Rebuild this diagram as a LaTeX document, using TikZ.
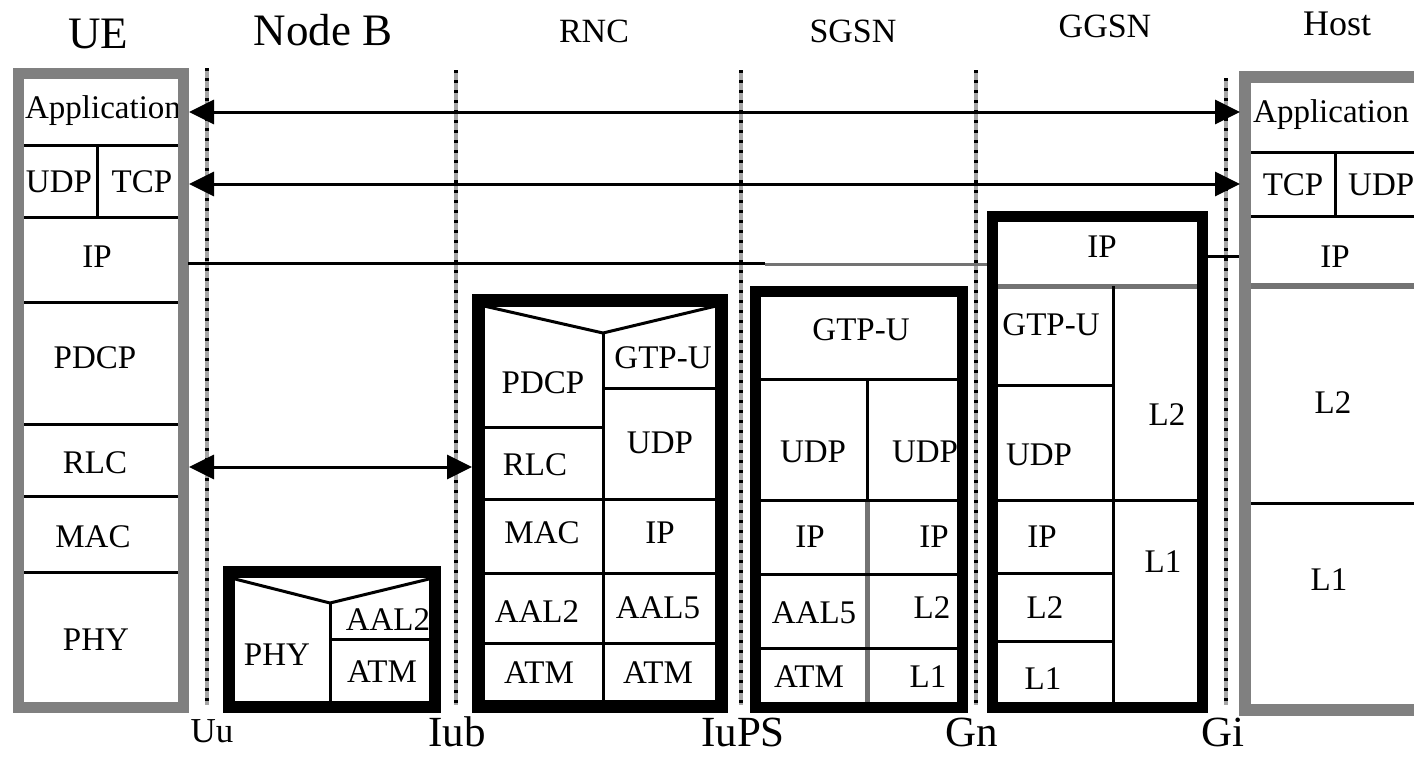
\documentclass[tikz,border=0pt]{standalone}
\usepackage{fontspec}
\setmainfont{Liberation Serif}
\usetikzlibrary{arrows.meta}
\begin{document}
\begin{tikzpicture}[x=1pt,y=-1pt,
  lbl/.style={anchor=base,inner sep=0pt,font=\fontsize{33}{33}\selectfont},
  lblw/.style={lbl,anchor=base west},
  hdrbig/.style={anchor=base,inner sep=0pt,font=\fontsize{45}{45}\selectfont},
  hdr/.style={anchor=base,inner sep=0pt,font=\fontsize{34}{34}\selectfont},
  iface/.style={anchor=base,inner sep=0pt,font=\fontsize{43}{43}\selectfont},
  ifacesmall/.style={anchor=base,inner sep=0pt,font=\fontsize{35}{35}\selectfont},
  sep/.style={line width=3pt,black},
  gsep/.style={line width=5pt,black!55},
  grayframe/.style={line width=11pt,black!50},
  blackframe/.style={line width=11pt,black},
  dotbase/.style={line width=3.5pt,black!35},
  dotline/.style={line width=3.5pt,black,dash pattern=on 3pt off 7pt},
  arr/.style={line width=3pt,{Triangle[length=25pt,width=24pt]}-{Triangle[length=25pt,width=24pt]}},
  plain/.style={line width=3pt,black}
]
\useasboundingbox (0,0) rectangle (1414,756);
\clip (0,0) rectangle (1414,756);

% ---------- interface dotted lines ----------
\foreach \x/\t in {207/68,456/70,741/70,976/70,1226/78}{
  \draw[dotbase] (\x,\t) -- (\x,705);
  \draw[dotline] (\x,\t) -- (\x,705);
}

% ---------- headers ----------
\node[hdrbig] (hUE) at (98,48) {UE};
\node[hdrbig] (hNB) at (323,45) {Node B};
\node[hdr] (hRNC) at (594,42) {RNC};
\node[hdr] (hSGSN) at (853,42) {SGSN};
\node[hdr] (hGGSN) at (1105,37) {GGSN};
\node[anchor=base,inner sep=0pt,font=\fontsize{36}{36}\selectfont] (hHost) at (1337,35) {Host};

% ---------- interface labels ----------
\node[ifacesmall] (iUu) at (212,742) {Uu};
\node[iface] (iIub) at (457,746) {Iub};
\node[iface] (iIuPS) at (743,746) {IuPS};
\node[iface] (iGn) at (972,746) {Gn};
\node[iface] (iGi) at (1223,746) {Gi};

% ---------- UE ----------
\node[lbl] (ueApp) at (103,118) {Application};
\node[lbl] (ueUDP) at (59,192) {UDP};
\node[lbl] (ueTCP) at (142,192) {TCP};
\node[lbl] (ueIP) at (97,267) {IP};
\node[lbl] (uePDCP) at (95,368) {PDCP};
\node[lbl] (ueRLC) at (95,473) {RLC};
\node[lbl] (ueMAC) at (93,547) {MAC};
\node[lbl] (uePHY) at (96,650) {PHY};
\draw[sep] (16,145) -- (186,145);
\draw[sep] (16,217) -- (186,217);
\draw[sep] (97,145) -- (97,217);
\draw[sep] (23,302) -- (178,302);
\draw[sep] (23,424) -- (178,424);
\draw[sep] (23,496) -- (178,496);
\draw[sep] (16,572) -- (186,572);
\draw[grayframe] (18.5,73.5) rectangle (183.5,707.5);

% ---------- Node B ----------
\node[lbl] (nbPHY) at (277,665) {PHY};
\node[lbl] (nbAAL2) at (388,630) {AAL2};
\node[lbl] (nbATM) at (382,682) {ATM};
\draw[sep] (235,579) -- (330,603) -- (429,579);
\draw[sep] (330,603) -- (330,701);
\draw[sep] (330,639) -- (429,639);
\draw[blackframe,line width=12pt] (229,572) rectangle (435,707);

% ---------- RNC ----------
\node[lbl] (rnPDCP) at (543,393) {PDCP};
\node[lbl] (rnGTP) at (663,368) {GTP-U};
\node[lbl] (rnRLC) at (535,475) {RLC};
\node[lbl] (rnUDP) at (660,453) {UDP};
\node[lbl] (rnMAC) at (542,543) {MAC};
\node[lbl] (rnIP) at (660,543) {IP};
\node[lbl] (rnAAL2) at (537,622) {AAL2};
\node[lbl] (rnAAL5) at (658,618) {AAL5};
\node[lbl] (rnATM1) at (539,683) {ATM};
\node[lbl] (rnATM2) at (658,683) {ATM};
\draw[sep] (484,306) -- (603,333) -- (716,306);
\draw[sep] (603,333) -- (603,701);
\draw[sep] (484,427) -- (603,427);
\draw[sep] (603,388) -- (716,388);
\draw[sep] (484,499) -- (716,499);
\draw[sep] (484,573) -- (716,573);
\draw[sep] (484,643) -- (716,643);
\draw[blackframe,line width=13pt] (478.5,300) rectangle (721.5,706.5);

% ---------- SGSN ----------
\node[lbl] (sgGTP) at (861,340) {GTP-U};
\node[lbl] (sgUDP1) at (813,462) {UDP};
\node[lbl] (sgUDP2) at (925,462) {UDP};
\node[lbl] (sgIP1) at (810,547) {IP};
\node[lbl] (sgIP2) at (934,547) {IP};
\node[lbl] (sgAAL5) at (814,623) {AAL5};
\node[lbl] (sgL2) at (932,618) {L2};
\node[lbl] (sgATM) at (809,687) {ATM};
\node[lbl] (sgL1) at (928,687) {L1};
\draw[sep] (761,379) -- (957,379);
\draw[sep] (867,379) -- (867,500);
\draw[gsep] (867,500) -- (867,702);
\draw[sep] (761,500) -- (957,500);
\draw[sep] (761,574) -- (957,574);
\draw[sep] (761,648) -- (957,648);
\draw[blackframe] (755.5,291.5) rectangle (962.5,707.5);

% ---------- GGSN ----------
\node[lbl] (ggIP) at (1102,257) {IP};
\node[lbl] (ggGTP) at (1051,335) {GTP-U};
\node[lbl] (ggUDP) at (1039,465) {UDP};
\node[lbl] (ggL2r) at (1167,425) {L2};
\node[lbl] (ggIP2) at (1042,547) {IP};
\node[lbl] (ggL1r) at (1163,572) {L1};
\node[lbl] (ggL2) at (1045,618) {L2};
\node[lbl] (ggL1) at (1043,689) {L1};
\draw[gsep] (998,286) -- (1197,286);
\draw[sep] (1113,286) -- (1113,702);
\draw[sep] (998,385) -- (1113,385);
\draw[sep] (998,500) -- (1197,500);
\draw[sep] (998,573) -- (1113,573);
\draw[sep] (998,641) -- (1113,641);
\draw[blackframe] (992.5,216.5) rectangle (1202.5,707.5);

% ---------- Host ----------
\node[lblw] (hoApp) at (1253,122) {Application};
\node[lbl] (hoTCP) at (1293,195) {TCP};
\node[lblw] (hoUDP) at (1348,195) {UDP};
\node[lbl] (hoIP) at (1335,267) {IP};
\node[lbl] (hoL2) at (1333,413) {L2};
\node[lbl] (hoL1) at (1329,590) {L1};
\draw[sep] (1243,152) -- (1420,152);
\draw[sep] (1243,216) -- (1420,216);
\draw[sep] (1335,152) -- (1335,216);
\draw[gsep,line width=6pt] (1251,286) -- (1420,286);
\draw[sep] (1251,503) -- (1420,503);
\draw[grayframe,line width=12pt] (1245,77) rectangle (1440,710);

% ---------- connectors ----------
\coordinate (ueAppE) at (189,112);
\coordinate (hoAppW) at (1240,112);
\coordinate (ueTcpE) at (189,184);
\coordinate (hoTcpW) at (1240,184);
\coordinate (ueIpE) at (188,263);
\coordinate (ipMid) at (765,263);
\coordinate (ipMid2) at (765,264);
\coordinate (ggIpW) at (987,264);
\coordinate (ggIpE) at (1208,256);
\coordinate (hoIpW) at (1239,256);
\coordinate (ueRlcE) at (189,467);
\coordinate (rnRlcW) at (472,467);
\draw[arr] (ueAppE) -- (hoAppW);
\draw[arr] (ueTcpE) -- (hoTcpW);
\draw[plain] (ueIpE) -- (ipMid);
\draw[plain,black!55] (ipMid2) -- (ggIpW);
\draw[plain] (ggIpE) -- (hoIpW);
\draw[arr] (ueRlcE) -- (rnRlcW);
\end{tikzpicture}
\end{document}
